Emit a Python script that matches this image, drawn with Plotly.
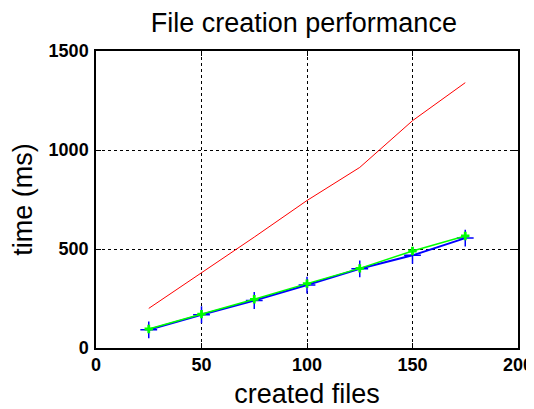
import plotly.graph_objects as go

files = [25, 50, 75, 100, 125, 150, 175]
red_times = [200, 378, 560, 745, 912, 1148, 1340]
blue_times = [92, 168, 240, 318, 400, 468, 555]
green_times = [96, 171, 246, 325, 402, 490, 566]

fig = go.Figure()
fig.add_trace(go.Scatter(x=files, y=red_times, mode="lines",
                         line=dict(color="#ff0000", width=1)))
fig.add_trace(go.Scatter(x=files, y=blue_times, mode="lines+markers",
                         line=dict(color="#0000ff", width=2),
                         marker=dict(symbol="cross-thin", size=12,
                                     line=dict(color="#0000ff", width=1.5))))
fig.add_trace(go.Scatter(x=files, y=green_times, mode="lines+markers",
                         line=dict(color="#00ff00", width=1.5),
                         marker=dict(symbol="cross", size=7, color="#00ff00")))

axis_common = dict(showline=True, linecolor="black", linewidth=1.5, mirror="allticks",
                   ticks="inside", ticklen=5, tickcolor="black", automargin=False,
                   showgrid=True, gridcolor="black", griddash="dot", gridwidth=1,
                   zeroline=False,
                   tickfont=dict(family="Liberation Sans", size=18, color="black", weight="bold"))

title_font = dict(family="Liberation Sans", size=27, color="black")

# page body has an 8px margin, so the figure is drawn 8px in from the window edge
fig.update_layout(
    width=534, height=401,
    margin=dict(l=88, r=24, t=43, b=61),
    paper_bgcolor="white", plot_bgcolor="white",
    showlegend=False,
    title=dict(text="File creation performance", x=0.554, xanchor="center",
               y=0.964, yanchor="middle", font=title_font),
    xaxis=dict(range=[0, 200], tickvals=[0, 50, 100, 150, 200], ticklabelstandoff=0,
               title=dict(text="created files", standoff=15, font=title_font),
               **axis_common),
    yaxis=dict(range=[0, 1500], tickvals=[0, 500, 1000, 1500], ticklabelstandoff=2,
               title=dict(text="time (ms)", standoff=10, font=title_font),
               **axis_common),
)
fig.write_html("out.html")
